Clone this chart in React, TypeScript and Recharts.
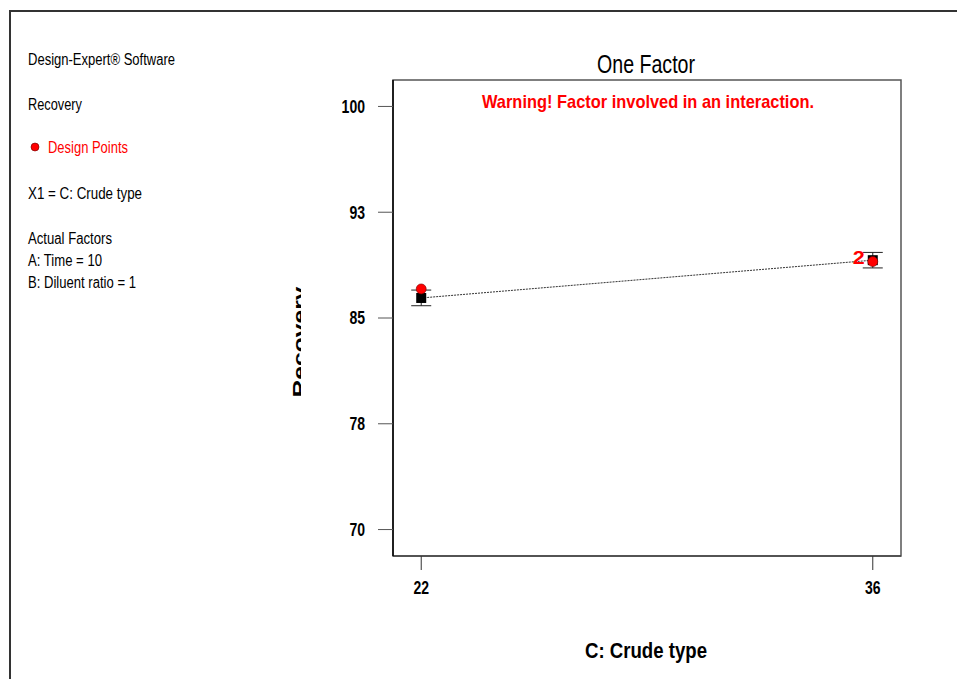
import React from "react";
import {
  ComposedChart,
  Line,
  Scatter,
  XAxis,
  YAxis,
  ErrorBar,
  ReferenceArea,
  Customized,
} from "recharts";

// ---- data ----
const crudeTypes = [22, 36];
const predictedRecovery = [86.42, 89.1];
const lsdLow = [85.87, 88.55];
const lsdHigh = [86.98, 89.65];
const designPointRecovery = [87.06, 89.0];
const designPointCounts = [1, 2];
const xTicks = [22, 36];
const yTicks = [70, 77.5, 85, 92.5, 100];
const xDomain = [21.125, 36.875];
const yDomain = [68.125, 101.875];

const infoLines = [
  { text: "Design-Expert® Software", y: 65, w: 147, red: false },
  { text: "Recovery", y: 110, w: 54, red: false },
  { text: "Design Points", y: 153, w: 80, red: true },
  { text: "X1 = C: Crude type", y: 199, w: 114, red: false },
  { text: "Actual Factors", y: 244, w: 84, red: false },
  { text: "A: Time = 10", y: 266, w: 74, red: false },
  { text: "B: Diluent ratio = 1", y: 288, w: 108, red: false },
];

const rows = crudeTypes.map((c, i) => ({
  crude: c,
  mean: predictedRecovery[i],
  err: [predictedRecovery[i] - lsdLow[i], lsdHigh[i] - predictedRecovery[i]],
  design: designPointRecovery[i],
  count: designPointCounts[i],
}));

const W = 957;
const H = 679;
const narrow = "'Liberation Sans Narrow', 'Arial Narrow', 'Liberation Sans', Arial, sans-serif";
const sans = "'Liberation Sans', Arial, sans-serif";

const YTick = (props: any) => {
  const { x, y, payload } = props;
  const s = String(Math.round(payload.value));
  return (
    <text
      x={x}
      y={y}
      dy="0.355em"
      textAnchor="end"
      fontFamily={sans}
      fontWeight="bold"
      fontSize={18}
      fill="#000"
      textLength={s.length * 7.8}
      lengthAdjust="spacingAndGlyphs"
    >
      {s}
    </text>
  );
};

const XTick = (props: any) => {
  const { x, y, payload } = props;
  const s = String(Math.round(payload.value));
  return (
    <text
      x={x}
      y={y}
      dy="0.71em"
      textAnchor="middle"
      fontFamily={sans}
      fontWeight="bold"
      fontSize={18}
      fill="#000"
      textLength={s.length * 7.8}
      lengthAdjust="spacingAndGlyphs"
    >
      {s}
    </text>
  );
};

const SquareDot = (props: any) => {
  const { cx, cy } = props;
  if (cx == null || cy == null) return null;
  return <rect x={cx - 5} y={cy - 5} width={10} height={10} fill="#000" />;
};

const DesignPoint = (props: any) => {
  const { cx, cy, payload } = props;
  if (cx == null || cy == null) return null;
  return (
    <g>
      <circle cx={cx} cy={cy} r={5} fill="#ff0000" stroke="#700" strokeWidth={0.6} />
      {payload && payload.count > 1 ? (
        <text
          x={cx - 8}
          y={cy - 4}
          dy="0.355em"
          textAnchor="end"
          fontFamily={sans}
          fontWeight="bold"
          fontSize={19}
          fill="#ff0000"
          textLength={12}
          lengthAdjust="spacingAndGlyphs"
        >
          {String(payload.count)}
        </text>
      ) : null}
    </g>
  );
};

const Decorations = () => (
  <g>
    <defs>
      <clipPath id="ylabClip">
        <rect x={0} y={0} width={301} height={H} />
      </clipPath>
    </defs>
    <path d={`M10 ${H} L10 11 L${W} 11`} fill="none" stroke="#333" strokeWidth={2} />
    {infoLines.map((l) => (
      <text
        key={l.text}
        x={l.red ? 48 : 28}
        y={l.y}
        fontFamily={narrow}
        fontSize={16}
        fill={l.red ? "#ff0000" : "#000"}
        textLength={l.w}
        lengthAdjust="spacingAndGlyphs"
      >
        {l.text}
      </text>
    ))}
    <circle cx={35} cy={147} r={4} fill="#ff0000" stroke="#600" strokeWidth={0.6} />
    <text
      x={597}
      y={73}
      fontFamily={sans}
      fontSize={25}
      fill="#000"
      textLength={98}
      lengthAdjust="spacingAndGlyphs"
    >
      One Factor
    </text>
    <text
      x={482}
      y={108}
      fontFamily={sans}
      fontWeight="bold"
      fontSize={19}
      fill="#ff0000"
      textLength={332}
      lengthAdjust="spacingAndGlyphs"
    >
      Warning! Factor involved in an interaction.
    </text>
    <text
      x={585}
      y={658}
      fontFamily={sans}
      fontWeight="bold"
      fontSize={22}
      fill="#000"
      textLength={122}
      lengthAdjust="spacingAndGlyphs"
    >
      C: Crude type
    </text>
    <g clipPath="url(#ylabClip)">
      <text
        x={306}
        y={342}
        transform="rotate(-90 306 342)"
        textAnchor="middle"
        fontFamily={sans}
        fontWeight="bold"
        fontSize={18}
        fill="#000"
        textLength={111}
        lengthAdjust="spacingAndGlyphs"
      >
        Recovery
      </text>
    </g>
  </g>
);

export default function App() {
  return (
    <div style={{ position: "absolute", left: 0, top: 0, width: W, height: H, background: "#fff" }}>
      <ComposedChart
        width={W}
        height={H}
        data={rows}
        margin={{ top: 80, right: 56, left: 333, bottom: 93 }}
      >
        <XAxis
          dataKey="crude"
          type="number"
          domain={xDomain}
          ticks={xTicks}
          allowDataOverflow
          height={30}
          tickSize={14}
          tickMargin={11}
          axisLine={{ stroke: "#444", strokeWidth: 1.5 }}
          tickLine={{ stroke: "#333", strokeWidth: 1 }}
          tick={<XTick />}
          interval={0}
        />
        <YAxis
          type="number"
          domain={yDomain}
          ticks={yTicks}
          allowDataOverflow
          width={60}
          tickSize={15}
          tickMargin={13}
          axisLine={{ stroke: "#000", strokeWidth: 1.5 }}
          tickLine={{ stroke: "#555", strokeWidth: 1 }}
          tick={<YTick />}
          interval={0}
        />
        <ReferenceArea
          x1={xDomain[0]}
          x2={xDomain[1]}
          y1={yDomain[0]}
          y2={yDomain[1]}
          fill="none"
          fillOpacity={0}
          stroke="#555"
          strokeWidth={1.5}
          ifOverflow="visible"
        />
        <Line
          dataKey="mean"
          stroke="#333"
          strokeWidth={1}
          strokeDasharray="2 1"
          dot={<SquareDot />}
          activeDot={false}
          isAnimationActive={false}
        >
          <ErrorBar dataKey="err" width={10} stroke="#222" strokeWidth={1} direction="y" />
        </Line>
        <Scatter dataKey="design" shape={<DesignPoint />} isAnimationActive={false} />
        <Customized component={Decorations} />
      </ComposedChart>
    </div>
  );
}
